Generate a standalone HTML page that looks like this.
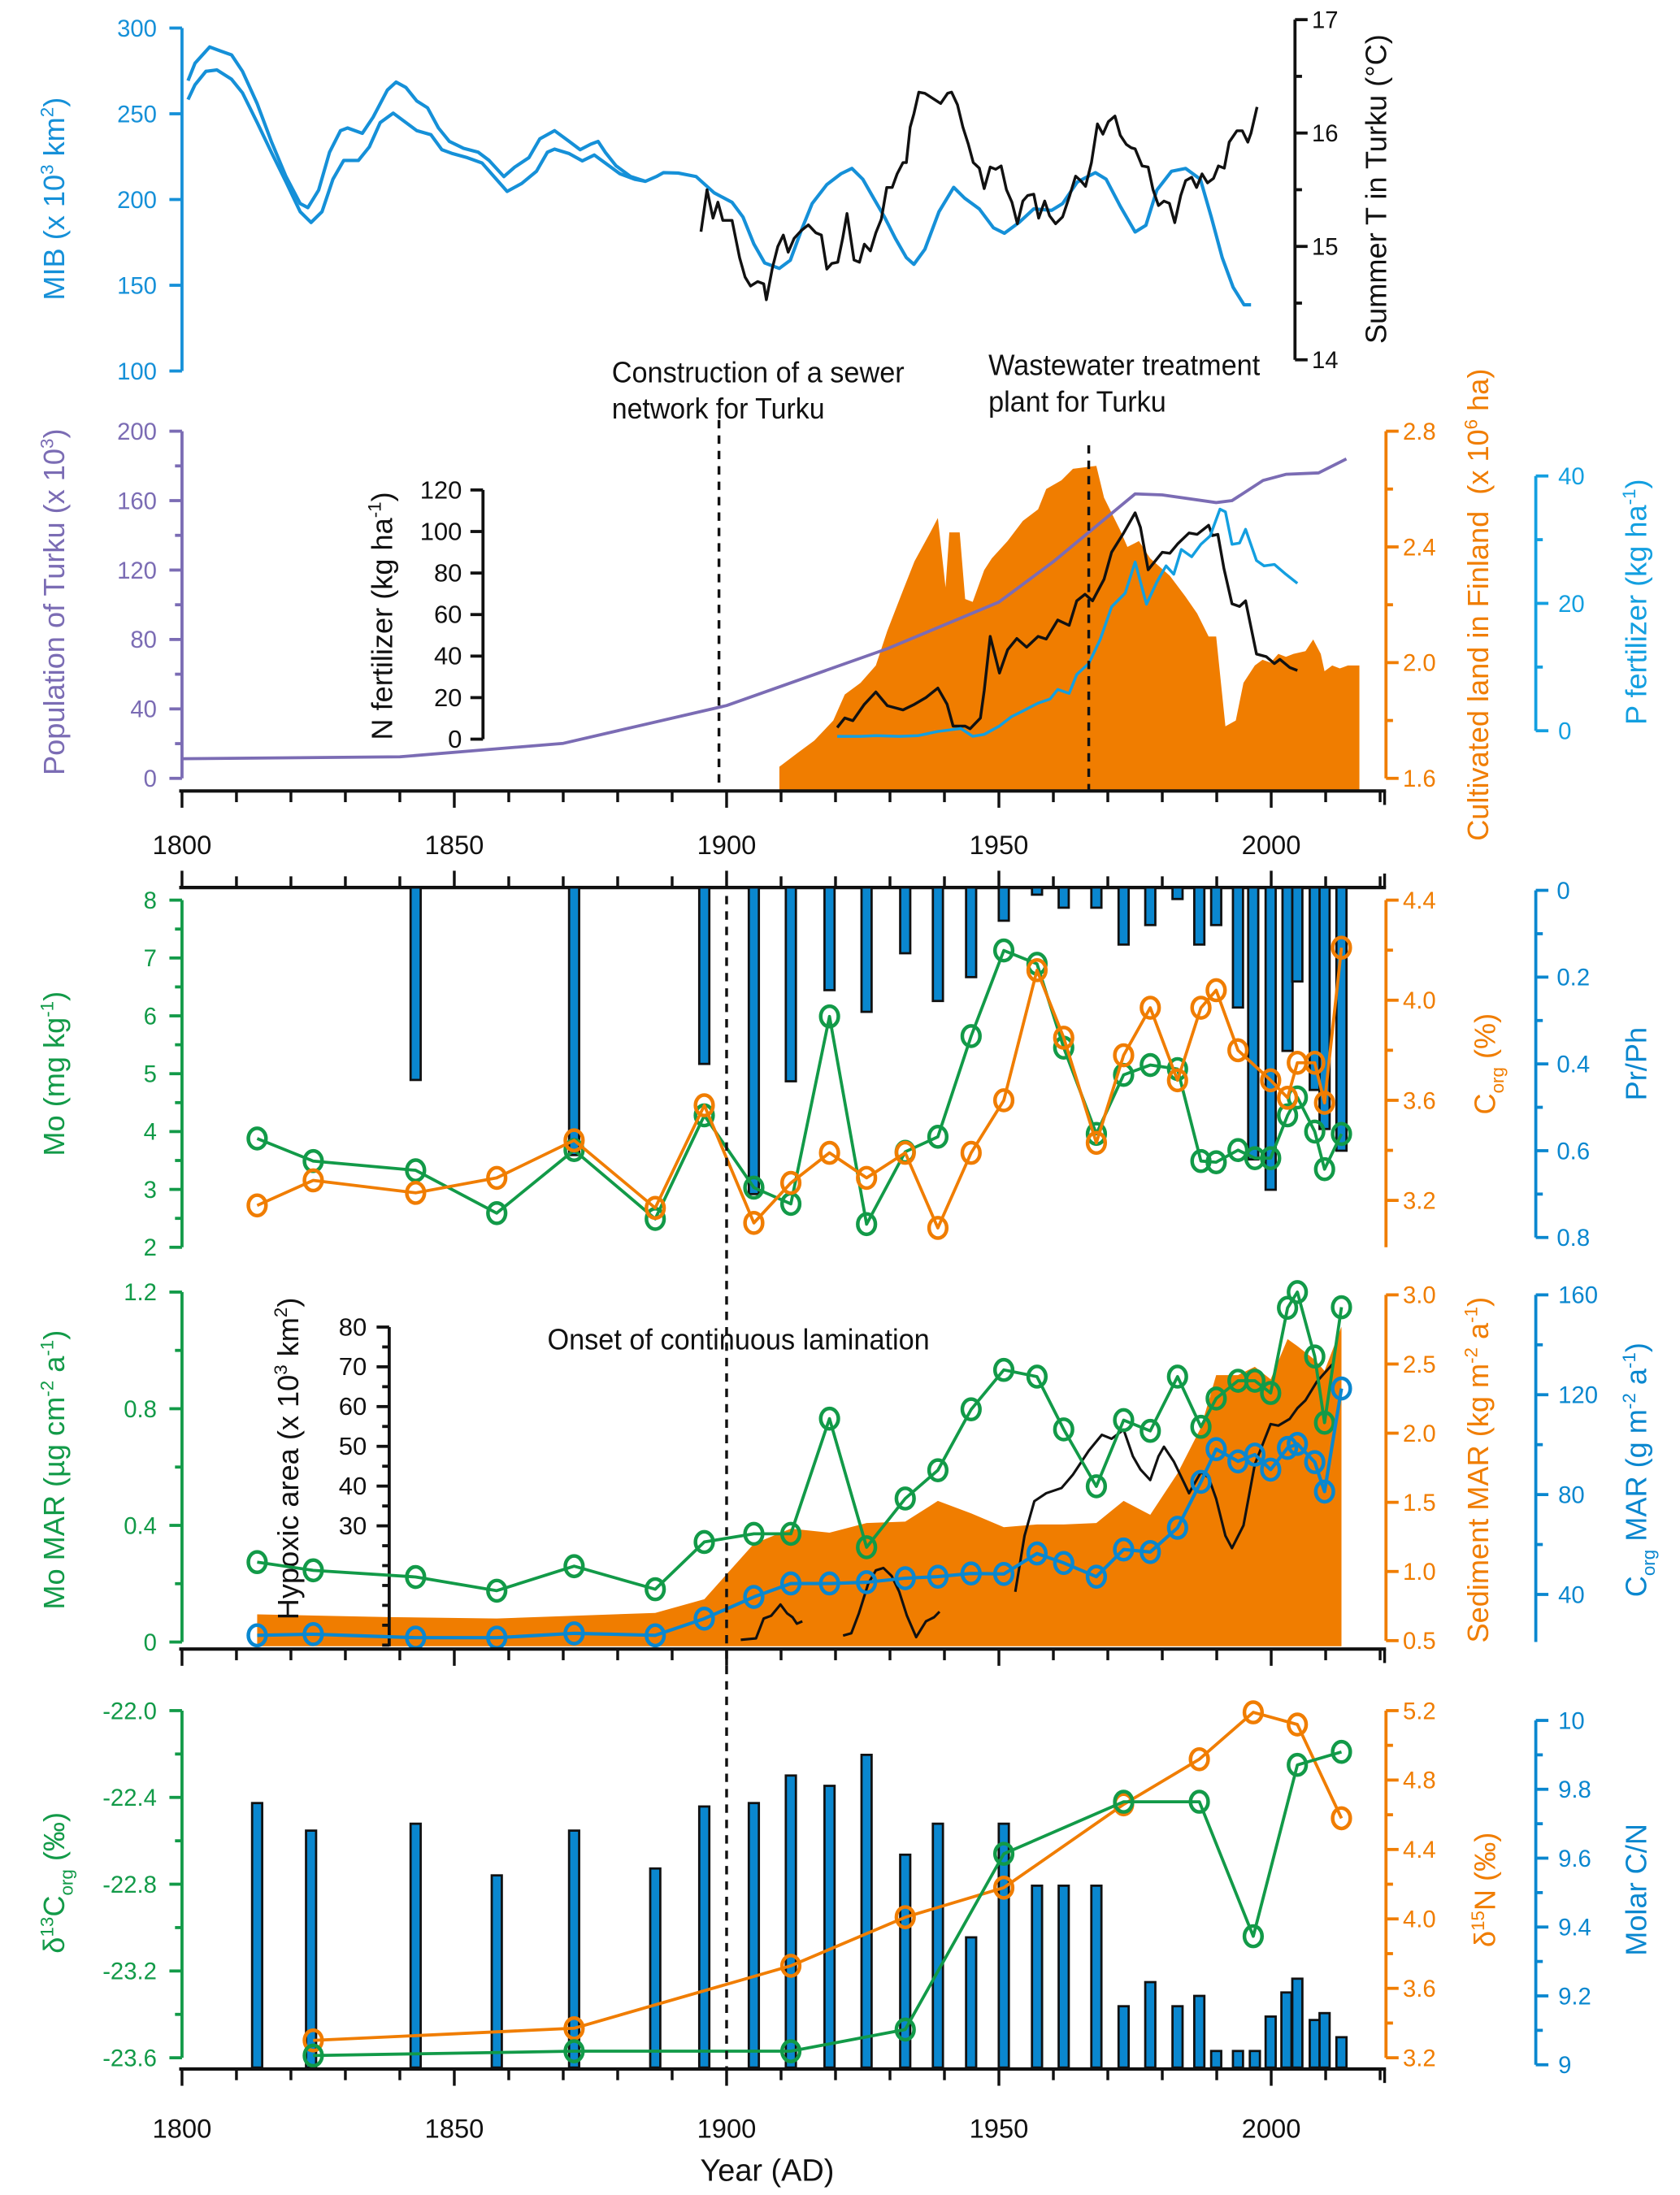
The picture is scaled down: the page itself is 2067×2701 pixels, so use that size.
<!DOCTYPE html>
<html><head><meta charset="utf-8"><style>
html,body{margin:0;padding:0;background:#fff;}
svg{display:block;}
text{font-family:"Liberation Sans",Arial,sans-serif;}
.nar{font-family:"Liberation Sans Narrow","Liberation Sans",sans-serif;}
</style></head><body>
<svg id="chart" xmlns="http://www.w3.org/2000/svg" width="2067" height="2701" viewBox="0 0 1200 1568"></svg>
<script>
// ===== Panel 1 data =====
const mibUpperYears=[1801.1,1802.4,1805.1,1807.1,1809.1,1811.1,1813.8,1816.4,1819.1,1821.7,1823.1,1825.1,1827.1,1829.1,1830.4,1833.1,1835.1,1837.7,1839.3,1841.1,1843.1,1845.1,1847.1,1849.1,1851.7,1854.4,1856.4,1859.1,1861.1,1863.7,1865.7,1868.4,1871.1,1873.1,1875.1,1876.4,1877.7,1879.7,1882.4,1885.1,1887.1,1888.4,1891.1,1894.4,1897.7,1901.0,1903.0,1905.0,1907.0,1909.7,1911.7,1913.7,1915.7,1918.4,1921.0,1923.0,1925.0,1927.0,1929.0,1931.0,1933.0,1934.4,1936.4,1939.0,1941.7,1943.7,1946.4,1949.0,1951.0,1953.7,1956.4,1959.7,1961.7,1964.4,1967.7,1969.7,1972.3,1975.0,1977.0,1979.0,1981.7,1984.3,1987.0,1989.0,1991.0,1993.0,1995.0,1996.3];
const mibUpperValues=[269.3,279.5,289.0,286.6,284.3,274.8,255.9,233.9,213.4,197.6,195.3,205.5,227.6,240.2,241.7,238.6,248.0,263.8,268.5,265.4,257.5,253.5,241.7,233.9,229.9,227.6,222.8,213.4,218.9,224.4,235.4,240.2,233.9,229.1,232.3,233.9,227.6,219.7,213.4,210.6,213.4,215.7,215.4,213.4,203.9,198.4,189.8,174.0,163.0,159.8,164.6,181.9,197.6,208.7,215.0,218.1,211.8,200.8,189.8,177.2,166.1,162.2,170.9,192.9,207.1,200.8,194.5,183.5,180.3,186.6,194.5,193.7,197.6,210.2,215.7,211.8,196.1,181.1,185.0,205.5,216.5,218.1,211.8,189.8,166.1,148.8,138.6,138.6];
const mibLowerYears=[1801.1,1802.4,1804.4,1806.4,1809.1,1811.1,1813.8,1816.4,1819.1,1821.7,1823.7,1825.7,1827.7,1829.7,1832.4,1834.4,1836.4,1838.8,1841.1,1843.1,1845.7,1847.7,1849.7,1852.4,1855.1,1857.7,1859.7,1862.4,1865.1,1867.1,1868.4,1871.1,1873.5,1875.7,1877.7,1880.4,1883.1,1885.1];
const mibLowerValues=[258.3,266.9,274.8,275.6,270.1,262.2,244.9,227.6,210.2,192.9,186.6,192.9,211.8,222.8,222.8,230.7,244.9,250.4,244.9,240.2,237.8,229.1,226.8,224.4,221.3,211.8,204.7,209.4,216.5,227.6,229.4,226.8,222.5,226.0,221.3,215.0,211.8,210.6];
const tempYears=[1895.3,1896.4,1897.5,1898.4,1899.3,1901.0,1902.4,1903.4,1904.4,1905.7,1906.8,1907.3,1908.4,1909.4,1910.4,1911.3,1912.4,1913.7,1915.0,1916.4,1917.4,1918.4,1919.3,1920.4,1921.3,1922.1,1922.8,1923.4,1924.4,1925.3,1926.4,1927.4,1928.4,1929.4,1930.4,1931.3,1932.4,1933.0,1933.7,1934.4,1935.3,1936.4,1937.7,1939.3,1940.6,1941.3,1942.4,1943.4,1944.4,1945.3,1946.4,1947.3,1948.4,1949.4,1950.4,1951.4,1952.4,1953.4,1954.4,1955.3,1956.4,1957.3,1958.4,1959.3,1960.4,1961.7,1963.0,1964.1,1965.0,1965.9,1967.0,1968.1,1969.1,1970.1,1971.3,1972.3,1973.4,1974.3,1975.0,1976.3,1977.4,1978.3,1979.3,1980.3,1981.3,1982.3,1983.4,1984.3,1985.4,1986.3,1987.3,1988.3,1989.4,1990.3,1991.4,1992.3,1993.7,1994.7,1995.7,1996.3,1997.4];
const tempValues=[15.13,15.50,15.25,15.39,15.23,15.23,14.90,14.73,14.65,14.69,14.67,14.53,14.81,15.00,15.10,14.95,15.07,15.14,15.19,15.12,15.10,14.80,14.85,14.86,15.07,15.29,15.07,14.88,14.86,15.02,14.96,15.12,15.24,15.52,15.52,15.64,15.74,15.74,16.05,16.17,16.36,16.35,16.31,16.26,16.35,16.36,16.25,16.05,15.90,15.74,15.69,15.51,15.70,15.68,15.71,15.50,15.39,15.20,15.40,15.45,15.46,15.25,15.40,15.27,15.20,15.26,15.45,15.62,15.58,15.53,15.74,16.08,15.99,16.10,16.15,15.98,15.90,15.87,15.86,15.71,15.70,15.50,15.36,15.40,15.38,15.21,15.45,15.58,15.61,15.52,15.64,15.56,15.60,15.71,15.69,15.92,16.02,16.02,15.92,16.00,16.23];
// ===== Panel 2 data =====
const popYears=[1800,1840,1870,1900,1929.5,1950,1960,1975,1980,1989.9,1992.8,1998.5,2002.7,2008.7,2013.8];
const popValues=[11.3,12.4,20.2,41.9,74.7,101.5,124.8,163.9,163.3,158.9,160,171.6,175.2,176,184];
const cultYears=[1909.7,1913.2,1916.1,1919.6,1921.7,1924.6,1927.4,1929.5,1932.4,1934.5,1937.4,1938.8,1940.2,1940.9,1942.8,1943.8,1945.2,1947.3,1948.7,1951.6,1954.4,1957.2,1958.7,1961.5,1963.6,1967.9,1969.3,1972.2,1973.6,1975.7,1977.8,1981.4,1984.2,1986.4,1988.5,1989.9,1991.6,1993.5,1994.9,1997.0,1998.4,1999.9,2001.3,2002.7,2004.1,2006.3,2007.7,2009.1,2009.8,2011.2,2012.6,2014.1,2016.2];
const cultValues=[1.64,1.69,1.73,1.80,1.89,1.93,1.99,2.11,2.25,2.35,2.45,2.50,2.26,2.45,2.45,2.22,2.21,2.32,2.36,2.42,2.49,2.53,2.60,2.63,2.67,2.68,2.57,2.46,2.40,2.42,2.36,2.30,2.23,2.17,2.09,2.09,1.78,1.80,1.93,1.99,2.01,2.00,2.03,2.02,2.03,2.04,2.08,2.03,1.97,1.99,1.98,1.99,1.99];
const nYears=[1920.3,1921.7,1923.2,1925.3,1927.4,1929.5,1932.4,1934.5,1936.6,1938.8,1940.5,1941.6,1943.8,1944.7,1946.6,1947.3,1948.4,1950.1,1951.6,1953.3,1955.1,1957.2,1958.7,1960.8,1962.9,1964.3,1965.8,1967.2,1969.3,1970.7,1972.9,1975.0,1976.0,1977.4,1980.0,1981.4,1982.8,1984.9,1986.4,1988.5,1989.2,1990.2,1991.3,1992.8,1994.2,1995.3,1997.3,1999.1,2000.6,2001.6,2003.4,2004.8];
const nValues=[5.6,10.2,8.9,16.8,22.7,16.1,14.1,16.8,20,24.6,16.8,6.3,6.3,5.0,10.2,23.3,49.5,31.8,43,48.5,44.3,49.5,48.2,57.4,54.8,66.6,69.8,66.6,77,90,99.3,109,102,81.6,90,89.5,94,99.3,98.6,103,98,98.6,82.3,65.2,63.9,66.6,41,39.7,36.4,38.4,34.5,33.1];
const pYears=[1920.3,1924.6,1927.4,1931.7,1935.2,1938.8,1943.0,1945.2,1947.3,1950.1,1952.3,1954.4,1957.2,1959.4,1960.8,1962.9,1964.3,1966.5,1968.6,1970.7,1973.2,1975.0,1977.1,1979.0,1980.7,1982.1,1983.5,1985.4,1987.1,1988.8,1990.6,1991.6,1992.8,1994.2,1995.3,1997.3,1998.7,2000.6,2002.7,2004.8];
const pValues=[0,0,0.1,0,0.1,0.75,1.2,0,0.3,1.6,3.0,3.9,5.1,5.75,7.2,6.6,9.5,11.2,14.9,19.9,22,26.8,20.3,23.7,26.2,24.9,28.7,27.6,29.5,30.8,34.9,34.5,29.5,29.7,31.8,27,26.2,26.4,24.9,23.5];
// ===== Sample years (cores) =====
const sampleYears=[1813.8,1824.1,1842.9,1857.8,1872.0,1886.9,1895.9,1905.0,1911.8,1918.9,1925.7,1932.8,1938.8,1944.9,1950.9,1957.0,1961.9,1967.9,1972.9,1977.8,1982.8,1987.1,1989.9,1993.9,1997.0,1999.9,2003.0,2004.8,2008.0,2009.8,2012.9];
// ===== Panel 3 data =====
const moValues=[3.88,3.49,3.33,2.59,3.68,2.49,4.28,3.03,2.75,5.99,2.40,3.65,3.91,5.65,7.13,6.9,5.45,3.96,4.98,5.15,5.08,3.49,3.47,3.68,3.54,3.54,4.28,4.59,4.0,3.35,3.96];
const corgYears=[1813.8,1824.1,1842.9,1857.8,1872.0,1886.9,1895.9,1905.0,1911.8,1918.9,1925.7,1932.8,1938.8,1944.9,1950.9,1957.0,1961.9,1967.9,1972.9,1977.8,1982.8,1987.1,1989.9,1993.9,1999.9,2003.0,2004.8,2008.0,2009.8,2012.9];
const corgValues=[3.18,3.28,3.23,3.29,3.44,3.17,3.58,3.11,3.27,3.39,3.29,3.39,3.09,3.39,3.60,4.12,3.85,3.43,3.78,3.97,3.68,3.97,4.04,3.80,3.68,3.61,3.75,3.75,3.59,4.21];
const prphYears=[1842.9,1872.0,1895.9,1905.0,1911.8,1918.9,1925.7,1932.8,1938.8,1944.9,1950.9,1957.0,1961.9,1967.9,1972.9,1977.8,1982.8,1986.8,1989.9,1993.9,1996.7,1999.9,2003.0,2004.8,2008.0,2009.8,2012.9];
const prphValues=[0.437,0.61,0.40,0.70,0.44,0.23,0.28,0.145,0.255,0.20,0.07,0.01,0.04,0.04,0.125,0.08,0.02,0.125,0.08,0.27,0.62,0.69,0.37,0.21,0.46,0.55,0.60];
// ===== Panel 4 data =====
const moMarValues=[0.274,0.246,0.223,0.176,0.26,0.181,0.343,0.371,0.371,0.766,0.325,0.492,0.589,0.798,0.933,0.91,0.729,0.534,0.761,0.724,0.91,0.738,0.835,0.896,0.896,0.854,1.146,1.2,0.979,0.752,1.148];
const corgMarValues=[23.6,24.1,22.7,22.7,24.4,23.6,30.3,39,44.4,44.4,44.9,46.5,47.1,48.4,48.2,56.4,52.6,47.1,58,57,66.7,85.1,98.2,93.3,96,90,98.7,100.3,93,81.2,122.5];
const sedYears=[1813.8,1837.9,1857.8,1886.9,1895.9,1900.0,1905.0,1911.8,1918.9,1925.7,1932.8,1938.8,1944.9,1950.9,1957.0,1961.9,1967.9,1972.9,1977.8,1982.8,1987.1,1989.9,1993.9,1997.0,1999.9,2003.0,2004.8,2008.0,2009.8,2012.9];
const sedValues=[0.69,0.67,0.66,0.70,0.80,0.98,1.20,1.31,1.28,1.35,1.36,1.51,1.42,1.32,1.34,1.34,1.35,1.51,1.41,1.71,2.04,2.42,2.42,2.48,2.39,2.68,2.63,2.53,2.45,2.77];
const hyp1Years=[1902.6,1905.4,1906.8,1908.2,1909.9,1911.1,1912.1,1912.9,1913.9];
const hyp1Values=[1.35,1.7,6.7,7.4,10.2,8.0,7.0,5.4,6.0];
const hyp2Years=[1921.4,1922.9,1924.3,1926.0,1927.4,1928.8,1930.3,1931.7,1933.1,1934.8,1936.6,1938.1,1939.1];
const hyp2Values=[2.4,3.0,8.0,15.4,18.8,19.4,17.4,13.4,7.4,2.0,6.0,7.0,8.4];
const hyp3Years=[1953.0,1954.7,1956.5,1958.7,1961.5,1963.6,1966.5,1968.9,1970.7,1972.9,1974.6,1976.0,1977.8,1979.3,1980.3,1982.1,1984.0,1984.9,1987.1,1988.5,1989.9,1991.6,1992.8,1994.9,1997.0,1999.9,2001.3,2003.4,2004.8,2006.3,2008.4,2011.2];
const hyp3Values=[13.4,27.5,36.2,38.2,39.5,42.9,48.9,52.9,51.9,54.2,47.5,44.2,41.5,47.5,49.9,46.2,40.8,38.2,43.5,42.2,36.8,27.5,24.4,30.1,45.5,55.6,55.2,56.9,59.6,61.6,66.3,70.6];
// ===== Panel 5 data =====
const isoYears=[1824.1,1872.0,1911.8,1932.8,1950.9,1972.9,1986.8,1996.7,2004.8,2012.9];
const d13cValues=[-23.59,-23.57,-23.57,-23.47,-22.66,-22.42,-22.42,-23.04,-22.25,-22.19];
const d15nValues=[3.30,3.37,3.73,4.01,4.18,4.66,4.92,5.19,5.12,4.58];
const cnYears=[1813.8,1823.7,1842.9,1857.8,1872.0,1886.9,1895.9,1905.0,1911.8,1918.9,1925.7,1932.8,1938.8,1944.9,1950.9,1957.0,1961.9,1967.9,1972.9,1977.8,1982.8,1986.8,1989.9,1993.9,1997.0,1999.9,2002.8,2004.8,2008.0,2009.8,2012.9];
const cnValues=[9.76,9.68,9.70,9.55,9.68,9.57,9.75,9.76,9.84,9.81,9.90,9.61,9.70,9.37,9.70,9.52,9.52,9.52,9.17,9.24,9.17,9.20,9.04,9.04,9.04,9.14,9.21,9.25,9.13,9.15,9.08];
const yearTicks=[1800,1850,1900,1950,2000];

const NS="http://www.w3.org/2000/svg";
const svg=document.getElementById('chart');
const C={blue1:'#1590d8',blue:'#0a87cf',lblue:'#139fe0',orange:'#f07d00',green:'#129a48',purple:'#7b6cb4',black:'#111'};
const X=y=>130+(y-1800)*3.89;
const lin=(v0,p0,v1,p1)=>v=>p0+(v-v0)*(p1-p0)/(v1-v0);
function mk(tag,attrs,parent){const e=document.createElementNS(NS,tag);for(const k in attrs)e.setAttribute(k,attrs[k]);(parent||svg).appendChild(e);return e;}
function txt(x,y,s,attrs,name){const t=mk('text',Object.assign({x:x,y:y},attrs));t.innerHTML=s;


return t;}
function rtitle(x,cy,s,color,name,cls){const t=mk('text',{x:0,y:0,transform:`translate(${x},${cy}) rotate(-90)`,'text-anchor':'middle','font-size':21,fill:color,class:cls||''});t.innerHTML=s;


return t;}
function vaxis(x,yTop,yBot,scale,majors,minors,fmt,side,color,name,fs,lx,cls){
  const g=mk('g',{});
  
  
  const l=mk('line',{x1:x,y1:yTop,x2:x,y2:yBot,stroke:color,'stroke-width':2.2},g);
  
  
  const d=side==='L'?-1:1;
  minors.forEach(v=>{const y=scale(v);const t=mk('line',{x1:x,y1:y,x2:x+d*5,y2:y,stroke:color,'stroke-width':2.2},g);
    
    });
  majors.forEach(v=>{const y=scale(v);const t=mk('line',{x1:x,y1:y,x2:x+d*9,y2:y,stroke:color,'stroke-width':2.2},g);
    
    
    const lab=mk('text',{x:lx,y:y+6,'text-anchor':side==='L'?'end':'start','font-size':fs||17,fill:color,class:cls||''},g);
    lab.textContent=fmt(v);
    
    });
}
function range(a,b,s){const r=[];for(let v=a;v<=b+1e-9;v+=s)r.push(+v.toFixed(4));return r;}
function haxis(y,dir,labels,name){
  const g=mk('g',{});
  
  
  const l=mk('line',{x1:128,y1:y,x2:990,y2:y,stroke:C.black,'stroke-width':2.4},g);
  
  
  for(let yr=1800;yr<=2020;yr+=10){const x=X(yr);const len=(yr%50===0)?12:8;
    const t=mk('line',{x1:x,y1:y,x2:x,y2:y+dir*len,stroke:C.black,'stroke-width':2},g);
    
    }
  const e=mk('line',{x1:989,y1:y,x2:989,y2:y+dir*10,stroke:C.black,'stroke-width':2},g);
  
  
}
function pathD(xs,ys,sx,sy){return xs.map((v,i)=>(i?'L':'M')+sx(v).toFixed(1)+','+sy(ys[i]).toFixed(1)).join(' ');}
function line(xs,ys,sy,color,w,name){const p=mk('path',{d:pathD(xs,ys,X,sy),fill:'none',stroke:color,'stroke-width':w,'stroke-linejoin':'round'});
  
  
  return p;}
function markers(xs,ys,sy,color,name){xs.forEach((v,i)=>{const c=mk('ellipse',{cx:X(v),cy:sy(ys[i]),rx:6.3,ry:7.3,fill:'none',stroke:color,'stroke-width':2.6});
  
  });}
function area(xs,ys,sy,base,color,name){const d=pathD(xs,ys,X,sy)+` L${X(xs[xs.length-1]).toFixed(1)},${base} L${X(xs[0]).toFixed(1)},${base} Z`;
  const p=mk('path',{d:d,fill:color,stroke:'none'});
  
  }
function dashed(x,y1,y2,name){const l=mk('line',{x1:x,y1:y1,x2:x,y2:y2,stroke:C.black,'stroke-width':2,'stroke-dasharray':'6,5'});
  
  }
function bars(xs,ys,y0,sy,name){xs.forEach((v,i)=>{const yv=sy(ys[i]);const top=Math.min(y0,yv),h=Math.abs(yv-y0);
  const r=mk('rect',{x:X(v)-3.6,y:top,width:7.2,height:h,fill:C.blue,stroke:C.black,'stroke-width':1.6});
  
  });}

// ===== PANEL 1 =====
const sMIB=lin(100,265,300,20), sT=lin(14,257,17,14);
vaxis(130,20,265,sMIB,[100,150,200,250,300],[],v=>v,'L',C.blue1,'mib-axis',17,112);
vaxis(925,14,257,sT,[14,15,16,17],[14.5,15.5,16.5],v=>v,'R',C.black,'temperature-axis',17,937);
rtitle(46,142,'MIB (x 10<tspan dy="-8" font-size="13">3</tspan><tspan dy="8"> km</tspan><tspan dy="-8" font-size="13">2</tspan><tspan dy="8">)</tspan>',C.blue1,'mib-axis-title');
rtitle(990,135,'Summer T in Turku (°C)',C.black,'temperature-axis-title');
line(mibLowerYears,mibLowerValues,sMIB,C.blue1,2.4,'mib-lower-line');
line(mibUpperYears,mibUpperValues,sMIB,C.blue1,2.4,'mib-upper-line');
line(tempYears,tempValues,sT,C.black,2,'summer-temperature-line');

// ===== PANEL 2 =====
const sPop=lin(0,556,200,308), sCult=lin(1.6,556,2.8,308), sP=lin(0,526,40,340), sN=lin(0,528,120,350);
area(cultYears,cultValues,sCult,565,C.orange,'cultivated-land-area');
vaxis(130,308,556,sPop,[0,40,80,120,160,200],[20,60,100,140,180],v=>v,'L',C.purple,'population-axis',17,112);
vaxis(990,308,556,sCult,[1.6,2.0,2.4,2.8],[1.8,2.2,2.6],v=>v.toFixed(1),'R',C.orange,'cultivated-land-axis',17,1002);
vaxis(1097,340,522,lin(0,522,40,340),[0,20,40],[10,30],v=>v,'R',C.lblue,'p-fertilizer-axis',17,1113);
vaxis(345,350,528,sN,[0,20,40,60,80,100,120],[],v=>v,'L',C.black,'n-fertilizer-axis',18,330,'nar');
rtitle(46,430,'Population of Turku (x 10<tspan dy="-8" font-size="13">3</tspan><tspan dy="8">)</tspan>',C.purple,'population-axis-title');
rtitle(1063,432,'Cultivated land in Finland&#160;&#160;(x 10<tspan dy="-8" font-size="13">6</tspan><tspan dy="8"> ha)</tspan>',C.orange,'cultivated-land-axis-title');
rtitle(1176,430,'P fertilizer (kg ha<tspan dy="-8" font-size="13">-1</tspan><tspan dy="8">)</tspan>',C.lblue,'p-fertilizer-axis-title');
rtitle(280,440,'N fertilizer (kg ha<tspan dy="-8" font-size="13">-1</tspan><tspan dy="8">)</tspan>',C.black,'n-fertilizer-axis-title');
line(popYears,popValues,sPop,C.purple,2.2,'population-line');
line(nYears,nValues,sN,C.black,2,'n-fertilizer-line');
line(pYears,pValues,sP,C.lblue,2,'p-fertilizer-line');
dashed(X(1898.6),300,565,'sewer-construction-line');
dashed(X(1966.5),318,565,'wastewater-plant-line');
txt(437,273,'Construction of a sewer',{'font-size':21,fill:C.black,textLength:209,lengthAdjust:'spacingAndGlyphs'},'sewer-annotation-line1');
txt(437,299,'network for Turku',{'font-size':21,fill:C.black,textLength:152,lengthAdjust:'spacingAndGlyphs'},'sewer-annotation-line2');
txt(706,268,'Wastewater treatment',{'font-size':21,fill:C.black,textLength:194,lengthAdjust:'spacingAndGlyphs'},'wwtp-annotation-line1');
txt(706,294,'plant for Turku',{'font-size':21,fill:C.black,textLength:127,lengthAdjust:'spacingAndGlyphs'},'wwtp-annotation-line2');
haxis(565,1,null,'middle-year-axis');
yearTicks.forEach(yr=>{txt(X(yr),610,yr,{'font-size':19,'text-anchor':'middle',fill:C.black},'middle-year-label');});
haxis(634,-1,null,'panel3-top-axis');

// ===== PANEL 3 =====
const sMo=lin(2,891,8,643), sC=lin(3.2,857.5,4.4,643), sPP=lin(0,636,0.8,884);
bars(prphYears,prphValues,634,sPP,'pr-ph-bar');
vaxis(130,643,891,sMo,[2,3,4,5,6,7,8],[2.5,3.5,4.5,5.5,6.5,7.5],v=>v,'L',C.green,'mo-axis',17,112);
vaxis(990,643,891,sC,[3.2,3.6,4.0,4.4],[3.4,3.8,4.2],v=>v.toFixed(1),'R',C.orange,'corg-axis',17,1002);
vaxis(1097,636,884,sPP,[0,0.2,0.4,0.6,0.8],[0.1,0.3,0.5,0.7],v=>v===0?'0':v.toFixed(1),'R',C.blue,'pr-ph-axis',17,1112);
rtitle(46,767,'Mo (mg kg<tspan dy="-8" font-size="13">-1</tspan><tspan dy="8">)</tspan>',C.green,'mo-axis-title');
rtitle(1068,760,'C<tspan dy="6" font-size="13">org</tspan><tspan dy="-6"> (%)</tspan>',C.orange,'corg-axis-title');
rtitle(1176,760,'Pr/Ph',C.blue,'pr-ph-axis-title');
line(sampleYears,moValues,sMo,C.green,2.2,'mo-line');
markers(sampleYears,moValues,sMo,C.green,'mo-point');
line(corgYears,corgValues,sC,C.orange,2.2,'corg-line');
markers(corgYears,corgValues,sC,C.orange,'corg-point');

// ===== PANEL 4 =====
const sMoM=lin(0,1173,1.2,923), sSed=lin(0.5,1172,3.0,925), sCM=lin(40,1139,160,925), sHyp=lin(30,1090,80,948);
area(sedYears,sedValues,sSed,1176,C.orange,'sediment-mar-area');
vaxis(130,923,1173,sMoM,[0,0.4,0.8,1.2],[0.2,0.6,1.0],v=>v===0?'0':v.toFixed(1),'L',C.green,'mo-mar-axis',17,112);
vaxis(990,925,1172,sSed,[0.5,1.0,1.5,2.0,2.5,3.0],[],v=>v.toFixed(1),'R',C.orange,'sediment-mar-axis',17,1002);
vaxis(1097,925,1173,sCM,[40,80,120,160],[60,100,140],v=>v,'R',C.blue,'corg-mar-axis',17,1113);
vaxis(278,948,1176,sHyp,[30,40,50,60,70,80],range(0,75,5).filter(v=>v%10!==0||v<30),v=>v,'L',C.black,'hypoxic-area-axis',18,262,'nar');
rtitle(46,1050,'Mo MAR (µg cm<tspan dy="-8" font-size="13">-2</tspan><tspan dy="8"> a</tspan><tspan dy="-8" font-size="13">-1</tspan><tspan dy="8">)</tspan>',C.green,'mo-mar-axis-title');
rtitle(1063,1050,'Sediment MAR (kg m<tspan dy="-8" font-size="13">-2</tspan><tspan dy="8"> a</tspan><tspan dy="-8" font-size="13">-1</tspan><tspan dy="8">)</tspan>',C.orange,'sediment-mar-axis-title');
rtitle(1176,1050,'C<tspan dy="6" font-size="13">org</tspan><tspan dy="-6"> MAR (g m</tspan><tspan dy="-8" font-size="13">-2</tspan><tspan dy="8"> a</tspan><tspan dy="-8" font-size="13">-1</tspan><tspan dy="8">)</tspan>',C.blue,'corg-mar-axis-title');
rtitle(213,1042,'Hypoxic area (x 10<tspan dy="-8" font-size="13">3</tspan><tspan dy="8"> km</tspan><tspan dy="-8" font-size="13">2</tspan><tspan dy="8">)</tspan>',C.black,'hypoxic-area-axis-title');
txt(391,964,'Onset of continuous lamination',{'font-size':21,fill:C.black,textLength:273,lengthAdjust:'spacingAndGlyphs'},'lamination-annotation');
line(hyp1Years,hyp1Values,sHyp,C.black,1.8,'hypoxic-area-line-1');
line(hyp2Years,hyp2Values,sHyp,C.black,1.8,'hypoxic-area-line-2');
line(hyp3Years,hyp3Values,sHyp,C.black,1.8,'hypoxic-area-line-3');
line(sampleYears,moMarValues,sMoM,C.green,2.2,'mo-mar-line');
markers(sampleYears,moMarValues,sMoM,C.green,'mo-mar-point');
line(sampleYears,corgMarValues,sCM,C.blue,2.4,'corg-mar-line');
markers(sampleYears,corgMarValues,sCM,C.blue,'corg-mar-point');
haxis(1178,1,null,'panel4-bottom-axis');

// ===== PANEL 5 =====
const sD13=lin(-23.6,1470,-22.0,1222), sD15=lin(3.2,1470,5.2,1222), sCN=lin(9,1475,10,1229);
bars(cnYears,cnValues,1477,sCN,'cn-bar');
vaxis(130,1222,1470,sD13,[-22.0,-22.4,-22.8,-23.2,-23.6],[-22.2,-22.6,-23.0,-23.4],v=>v.toFixed(1),'L',C.green,'d13c-axis',17,112);
vaxis(990,1222,1470,sD15,[3.2,3.6,4.0,4.4,4.8,5.2],[3.4,3.8,4.2,4.6,5.0],v=>v.toFixed(1),'R',C.orange,'d15n-axis',17,1002);
vaxis(1097,1229,1475,sCN,[9,9.2,9.4,9.6,9.8,10],[9.1,9.3,9.5,9.7,9.9],v=>(v===9||v===10)?String(v):v.toFixed(1),'R',C.blue,'cn-axis',17,1113);
rtitle(46,1345,'δ<tspan dy="-8" font-size="13">13</tspan><tspan dy="8">C</tspan><tspan dy="6" font-size="13">org</tspan><tspan dy="-6"> (‰)</tspan>',C.green,'d13c-axis-title');
rtitle(1068,1350,'δ<tspan dy="-8" font-size="13">15</tspan><tspan dy="8">N (‰)</tspan>',C.orange,'d15n-axis-title');
rtitle(1176,1350,'Molar C/N',C.blue,'cn-axis-title');
line(isoYears,d15nValues,sD15,C.orange,2.2,'d15n-line');
markers(isoYears,d15nValues,sD15,C.orange,'d15n-point');
line(isoYears,d13cValues,sD13,C.green,2.2,'d13c-line');
markers(isoYears,d13cValues,sD13,C.green,'d13c-point');
haxis(1478,1,null,'bottom-year-axis');
yearTicks.forEach(yr=>{txt(X(yr),1527,yr,{'font-size':19,'text-anchor':'middle',fill:C.black},'bottom-year-label');});
txt(548,1558,'Year (AD)',{'font-size':22,'text-anchor':'middle',fill:C.black},'x-axis-title');
dashed(X(1900),640,1478,'lamination-onset-line');
</script>
</body></html>
